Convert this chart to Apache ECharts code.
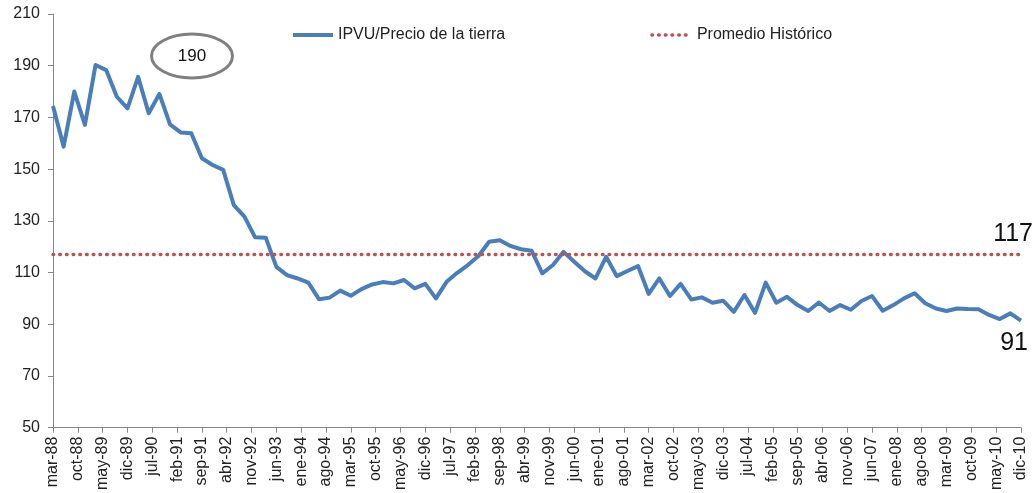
<!DOCTYPE html>
<html>
<head>
<meta charset="utf-8">
<script src="https://cdn.jsdelivr.net/npm/echarts@6/dist/echarts.min.js"></script>
<style>
  html, body { margin: 0; padding: 0; background: #fff; }
  #main { width: 1034px; height: 493px; }
</style>
</head>
<body>
<div id="main"></div>
<script>
const nombresMes = ["ene", "feb", "mar", "abr", "may", "jun", "jul", "ago", "sep", "oct", "nov", "dic"];

// eje mensual: mar-88 ... dic-10 (se rotula uno de cada 7)
const meses = [];
for (let y = 1988; y <= 2010; y++) {
  for (let m = 0; m < 12; m++) {
    if (y === 1988 && m < 2) continue;
    meses.push(nombresMes[m] + "-" + String(y).slice(2));
  }
}

// IPVU / precio de la tierra, trimestral (mar-88 ... dic-10)
const ipvu = [
  174.4, 158.7, 180.0, 167.1, 190.3, 188.3, 178.0, 173.5, 185.7, 171.6,
  179.1, 167.3, 164.2, 163.9, 154.2, 151.6, 149.7, 136.1, 131.6, 123.6,
  123.5, 112.2, 109.0, 107.7, 106.1, 99.7, 100.3, 103.0, 101.0, 103.6,
  105.4, 106.3, 105.8, 107.1, 103.9, 105.6, 100.0, 106.4, 109.9, 112.9,
  116.4, 121.9, 122.5, 120.3, 119.0, 118.4, 109.7, 112.9, 118.0, 114.2,
  110.5, 107.7, 116.1, 108.6, 110.6, 112.5, 101.7, 107.7, 100.9, 105.6,
  99.6, 100.4, 98.3, 99.1, 94.8, 101.3, 94.4, 106.1, 98.3, 100.6,
  97.4, 95.1, 98.4, 95.1, 97.4, 95.6, 99.0, 100.9, 95.2, 97.4,
  100.0, 102.0, 98.1, 96.1, 95.1, 96.1, 95.9, 95.8, 93.6, 92.0,
  94.2, 91.4
];
const promedioHistorico = 117;
const maximoHistorico = 190;

// eje Y
const yMin = 50, yMax = 210, yPaso = 20;

const fuente = "Liberation Sans, Arial, sans-serif";
const gris = "#868686";
const azul = "#4A7EBB";
const rojo = "#C0504D";
const punteado = [0.7, 6];

const chart = echarts.init(document.getElementById("main"), null, { renderer: "canvas" });

chart.setOption({
  animation: false,
  backgroundColor: "#fff",
  textStyle: { fontFamily: fuente },
  grid: { left: 53, right: 13, top: 14, bottom: 65 },
  legend: {
    left: 286,
    top: 22,
    itemWidth: 40,
    itemHeight: 14,
    itemGap: 145,
    textStyle: { fontSize: 16, color: "#222", fontFamily: fuente },
    data: [
      {
        name: "IPVU/Precio de la tierra",
        itemStyle: { opacity: 0 },
        lineStyle: { width: 4, color: azul }
      },
      {
        name: "Promedio Histórico",
        itemStyle: { opacity: 0 },
        lineStyle: { width: 3.4, color: rojo, type: punteado, cap: "round" }
      }
    ]
  },
  xAxis: {
    type: "category",
    data: meses,
    boundaryGap: false,
    axisLine: { lineStyle: { color: gris, width: 1 } },
    axisTick: { interval: 6, length: 5, lineStyle: { color: gris } },
    axisLabel: {
      interval: 6,
      rotate: 90,
      margin: 9,
      fontSize: 16,
      color: "#222",
      fontFamily: fuente
    }
  },
  yAxis: {
    type: "value",
    min: yMin,
    max: yMax,
    interval: yPaso,
    splitLine: { show: false },
    axisLine: { show: true, lineStyle: { color: gris, width: 1 } },
    axisTick: { show: true, length: 5, lineStyle: { color: gris } },
    axisLabel: { margin: 13, fontSize: 16, color: "#222", fontFamily: fuente }
  },
  series: [
    {
      name: "IPVU/Precio de la tierra",
      type: "line",
      symbol: "none",
      data: ipvu.map((v, i) => [i * 3, v]),
      lineStyle: { color: azul, width: 4, join: "round" },
      itemStyle: { color: azul },
      endLabel: {
        show: true,
        formatter: (p) => Math.round(p.value[1]),
        fontSize: 25,
        color: "#111",
        fontFamily: fuente,
        align: "right",
        offset: [-1, 22]
      }
    },
    {
      name: "Promedio Histórico",
      type: "line",
      symbol: "none",
      data: [[0, promedioHistorico], [meses.length - 1, promedioHistorico]],
      lineStyle: { color: rojo, width: 3.4, type: punteado, cap: "round" },
      itemStyle: { color: rojo },
      endLabel: {
        show: true,
        formatter: (p) => p.value[1],
        fontSize: 25,
        color: "#111",
        fontFamily: fuente,
        align: "right",
        offset: [4, -20]
      }
    }
  ],
  graphic: [
    {
      type: "ellipse",
      shape: { cx: 192, cy: 56, rx: 40.5, ry: 22 },
      style: { fill: "#fff", stroke: "#7f7f7f", lineWidth: 3 }
    },
    {
      type: "text",
      x: 192,
      y: 56,
      style: {
        text: String(maximoHistorico),
        font: "17px " + fuente,
        fill: "#111",
        align: "center",
        verticalAlign: "middle"
      }
    }
  ]
});
</script>
</body>
</html>
